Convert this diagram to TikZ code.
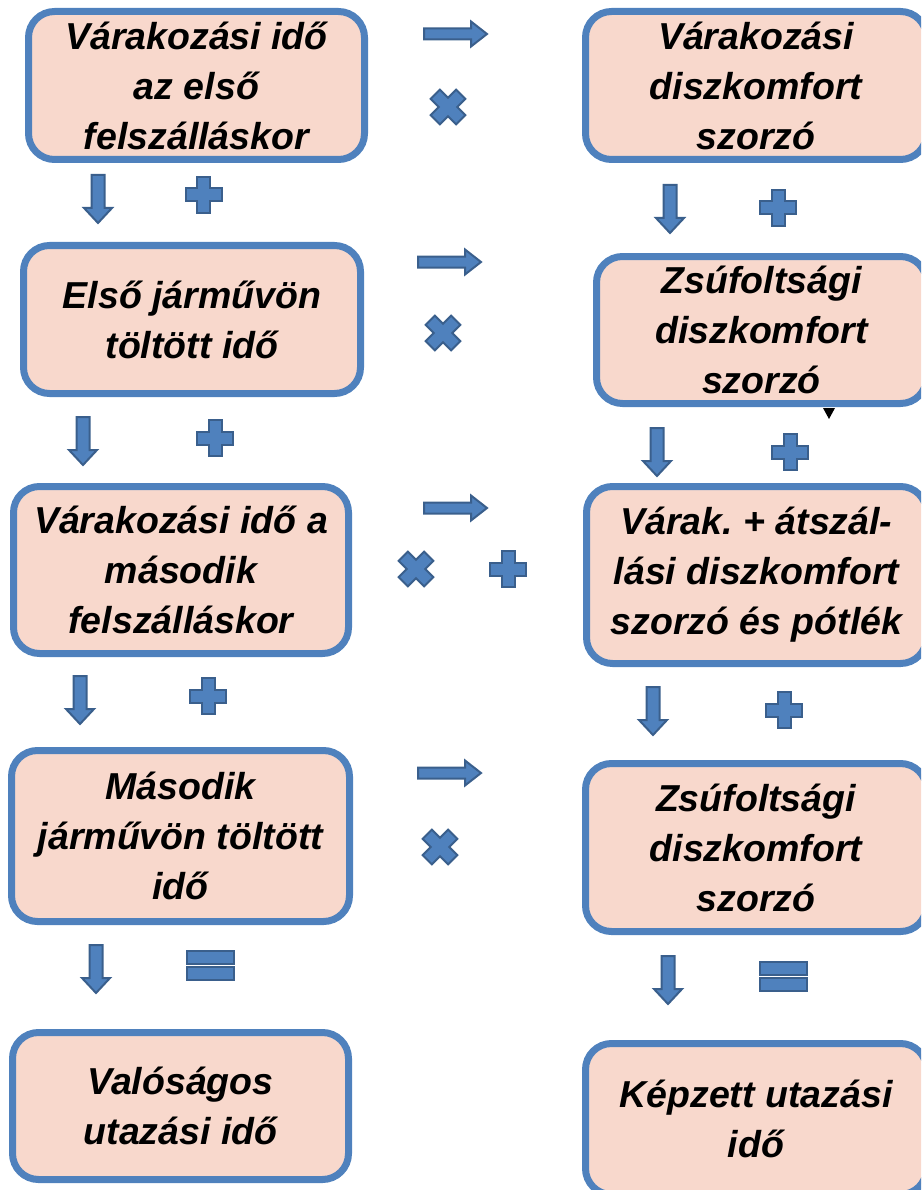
\documentclass[tikz,border=0pt]{standalone}
\usepackage{fontspec}
\setmainfont{Liberation Sans}
\definecolor{boxfill}{HTML}{F8D8CC}
\definecolor{boxline}{HTML}{4F81BD}
\definecolor{symfill}{HTML}{4F81BD}
\definecolor{symline}{HTML}{3A5F8C}
\frenchspacing
\begin{document}
\begin{tikzpicture}[x=1pt, y=-1pt,
    box/.style={draw=boxline, fill=boxfill, line width=7pt, rounded corners=26pt, align=center, inner sep=0pt, font=\fontsize{37.5}{50}\selectfont\bfseries\itshape},
    sym/.style={fill=symfill, draw=symline, line width=2pt},
    pics/downarr/.style={code={\filldraw[sym] (-6.5,0) -- (6.5,0) -- (6.5,33) -- (14,33) -- (0,48) -- (-14,33) -- (-6.5,33) -- cycle;}},
    pics/rightarr/.style={code={\filldraw[sym] (0,-5.5) -- (47,-5.5) -- (47,-12.5) -- (63,0) -- (47,12.5) -- (47,5.5) -- (0,5.5) -- cycle;}},
    pics/plussign/.style={code={\filldraw[sym] (-6.5,-18) -- (6.5,-18) -- (6.5,-6.5) -- (18,-6.5) -- (18,6.5) -- (6.5,6.5) -- (6.5,18) -- (-6.5,18) -- (-6.5,6.5) -- (-18,6.5) -- (-18,-6.5) -- (-6.5,-6.5) -- cycle;}},
    pics/eqsign/.style={code={\filldraw[sym] (-23.5,0) rectangle (23.5,13); \filldraw[sym] (-23.5,16) rectangle (23.5,29);}}]
    \clip (0,0) rectangle (921,1190);
    % Define boxes
    \node[box, minimum width=336, minimum height=148] (real1) at (196.5,85.5) {Várakozási idő\\az első\\felszálláskor};
    \node[box, minimum width=337, minimum height=148] (real2) at (192,319.5) {Első járművön\\töltött idő};
    \node[box, minimum width=335, minimum height=167] (real3) at (181,570) {Várakozási idő a\\második\\felszálláskor};
    \node[box, minimum width=338, minimum height=171] (real4) at (180.5,836) {Második\\járművön töltött\\idő};
    \node[box, minimum width=336, minimum height=147] (real5) at (180.5,1106) {Valóságos\\utazási idő};
    \node[box, minimum width=341, minimum height=148] (mult1) at (756,85.5) {Várakozási\\diszkomfort\\szorzó};
    \node[box, minimum width=330, minimum height=147] (mult2) at (761.5,330) {Zsúfoltsági\\diszkomfort\\szorzó};
    \node[box, minimum width=340, minimum height=177] (mult3) at (756.5,575) {Várak. + átszál-\\lási diszkomfort\\szorzó és pótlék};
    \node[box, minimum width=341, minimum height=168] (mult4) at (756,847.5) {Zsúfoltsági\\diszkomfort\\szorzó};
    \node[box, minimum width=341, minimum height=151] (mult5) at (756,1119) {Képzett utazási\\idő};

    % Draw symbols
    \pic at (98,175) {downarr};
    \pic at (83,417) {downarr};
    \pic at (80,676) {downarr};
    \pic at (96,945) {downarr};
    \pic at (670,185) {downarr};
    \pic at (657,428) {downarr};
    \pic at (653,687) {downarr};
    \pic at (668,956) {downarr};
    \pic at (424,34) {rightarr};
    \pic at (418,262) {rightarr};
    \pic at (424,508) {rightarr};
    \pic at (418,773) {rightarr};
    \pic at (203.5,195) {plussign};
    \pic at (215,438) {plussign};
    \pic at (208,696) {plussign};
    \pic at (778,208) {plussign};
    \pic at (790,452) {plussign};
    \pic at (508,569) {plussign};
    \pic at (784,710) {plussign};
    \pic[rotate=45] at (448,107) {plussign};
    \pic[rotate=45] at (443,333) {plussign};
    \pic[rotate=45] at (416,569) {plussign};
    \pic[rotate=45] at (440,847) {plussign};
    \pic at (210.5,951) {eqsign};
    \pic at (783,962) {eqsign};
    \fill (823,408) -- (835,408) -- (829,419) -- cycle; % stray tip
\end{tikzpicture}
\end{document}
